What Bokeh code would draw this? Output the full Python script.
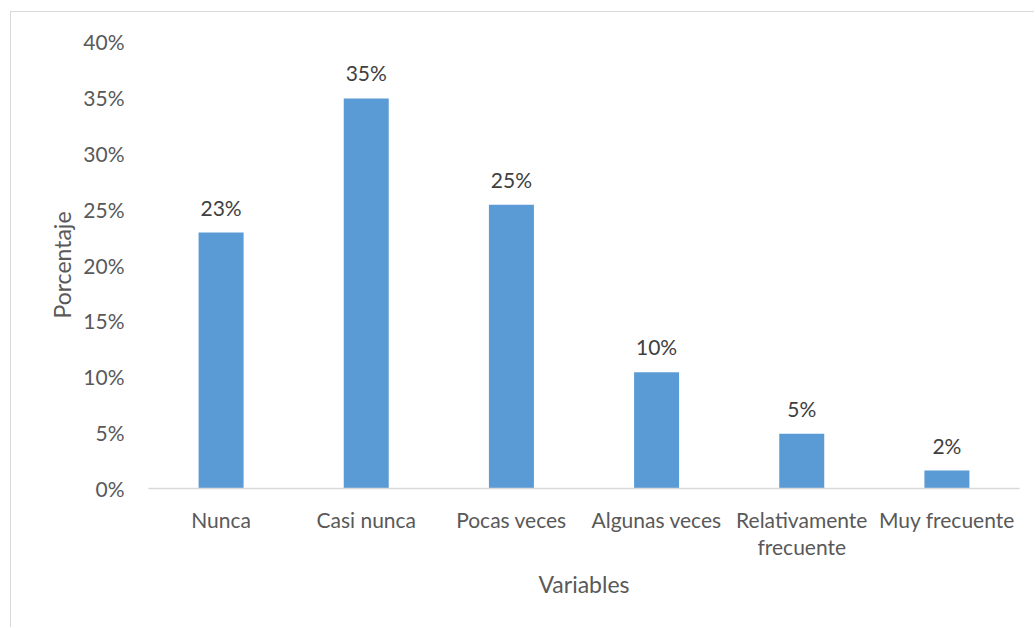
from bokeh.plotting import figure
from bokeh.models import ColumnDataSource, NumeralTickFormatter, FixedTicker, Range1d
from bokeh.core.properties import value
from bokeh.embed import file_html
from bokeh.resources import INLINE

categories = ["Nunca", "Casi nunca", "Pocas veces", "Algunas veces", "Relativamente\nfrecuente", "Muy frecuente"]
values = [0.229, 0.349, 0.254, 0.104, 0.049, 0.016]
labels = ["23%", "35%", "25%", "10%", "5%", "2%"]
y_ticks = [0, 0.05, 0.10, 0.15, 0.20, 0.25, 0.30, 0.35, 0.40]

FONT = "Lato"

source = ColumnDataSource(dict(cat=categories, val=values, lab=labels))

p = figure(x_range=categories, y_range=Range1d(0, 0.40), width=1024, height=616,
           output_backend="svg", toolbar_location=None,
           min_border_left=137, min_border_right=16, min_border_top=29, min_border_bottom=140)
p.styles = {"margin-left": "10px", "margin-top": "11px",
            "border-left": "1px solid #d9d9d9", "border-top": "1px solid #d9d9d9"}

p.vbar(x="cat", top="val", width=0.31, source=source, color="#5B9BD5", line_color=None)
p.text(x="cat", y="val", text="lab", source=source, text_align="center", text_baseline="bottom",
       y_offset=-13, text_font=value(FONT), text_font_size="21px", text_color="#404040")

p.outline_line_color = None
p.xgrid.grid_line_color = None
p.ygrid.grid_line_color = None
p.background_fill_color = "white"
p.border_fill_color = "white"

p.yaxis.ticker = FixedTicker(ticks=y_ticks)
p.yaxis.formatter = NumeralTickFormatter(format="0%")
p.yaxis.axis_line_color = None
p.yaxis.major_tick_line_color = None
p.yaxis.minor_tick_line_color = None
p.yaxis.major_label_standoff = 18
p.yaxis.axis_label = "Porcentaje"
p.yaxis.axis_label_standoff = 4

p.xaxis.axis_line_color = "#d9d9d9"
p.xaxis.axis_line_width = 1.5
p.xaxis.major_tick_line_color = None
p.xaxis.minor_tick_line_color = None
p.xaxis.major_label_standoff = 12
p.xaxis.axis_label = "Variables"
p.xaxis.axis_label_standoff = 8
p.x_range.range_padding = 0.0

for ax in (p.xaxis[0], p.yaxis[0]):
    ax.major_label_text_font = FONT
    ax.major_label_text_font_size = "21px"
    ax.major_label_text_color = "#595959"
    ax.axis_label_text_font = FONT
    ax.axis_label_text_font_size = "23px"
    ax.axis_label_text_font_style = "normal"
    ax.axis_label_text_color = "#595959"
p.xaxis.major_label_text_line_height = 1.1

open("out.html", "w").write(file_html(p, INLINE))
